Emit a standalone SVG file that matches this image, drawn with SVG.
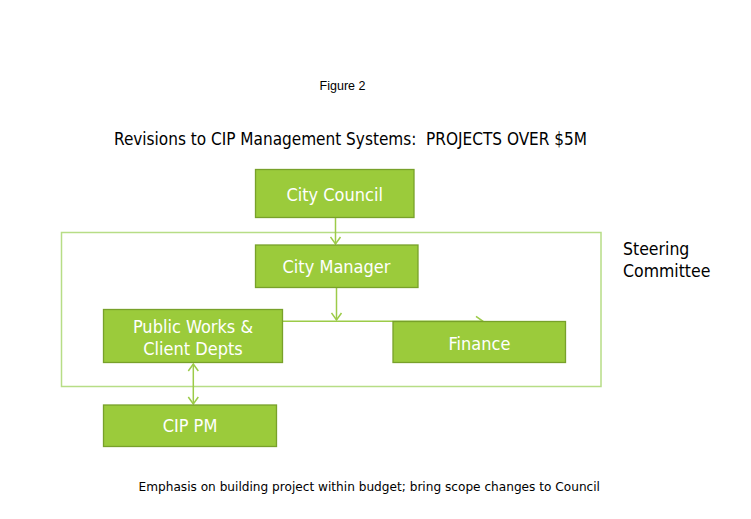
<svg xmlns="http://www.w3.org/2000/svg" width="751" height="519" viewBox="0 0 751 519">
<style>
.node{fill:#9BCB3B;stroke:#78A12A;stroke-width:1.3}
.nt{font-family:"DejaVu Sans Condensed","DejaVu Sans",sans-serif;font-stretch:condensed;font-size:18px;fill:#ffffff;text-anchor:middle}
.lbl{font-family:"DejaVu Sans Condensed","DejaVu Sans",sans-serif;font-stretch:condensed;fill:#000000}
.conn{stroke:#9CCB48;stroke-width:1.5;fill:none}
</style>
<defs>
<marker id="arr" markerUnits="userSpaceOnUse" markerWidth="12" markerHeight="12" viewBox="0 0 12 12" refX="8" refY="6" orient="auto-start-reverse">
<path d="M1,1 L8,6 L1,11" fill="none" stroke="#9CCB48" stroke-width="1.5"/>
</marker>
</defs>
<rect width="751" height="519" fill="#ffffff"/>
<text x="342.5" y="90" font-family="Liberation Sans, Arial, sans-serif" font-size="12.5" text-anchor="middle" fill="#000">Figure 2</text>
<text x="114" y="145" class="lbl" font-size="17" xml:space="preserve" style="white-space:pre" textLength="473" lengthAdjust="spacingAndGlyphs">Revisions to CIP Management Systems:  PROJECTS OVER $5M</text>
<g id="steering">
<rect x="61.5" y="232.5" width="539.5" height="154" fill="none" stroke="#B7DD86" stroke-width="1.5"/>
<text class="lbl" font-size="17.5"><tspan x="623" y="255">Steering</tspan><tspan x="623" y="277">Committee</tspan></text>
</g>
<g id="connectors">
<line class="conn" x1="335.5" y1="218" x2="335.5" y2="244" marker-end="url(#arr)"/>
<line class="conn" x1="336.5" y1="287.5" x2="336.5" y2="320" marker-end="url(#arr)"/>
<line class="conn" x1="283" y1="321.3" x2="483" y2="321.3" marker-end="url(#arr)"/>
<line class="conn" x1="193.3" y1="364" x2="193.3" y2="404" marker-start="url(#arr)" marker-end="url(#arr)"/>
</g>
<g id="city-council">
<rect class="node" x="255.5" y="169.5" width="158.5" height="48"/>
<text class="nt" x="334.7" y="201">City Council</text>
</g>
<g id="city-manager">
<rect class="node" x="255.5" y="245" width="162.5" height="42.5"/>
<text class="nt" x="336.5" y="273">City Manager</text>
</g>
<g id="public-works">
<rect class="node" x="103.5" y="309.5" width="179" height="53"/>
<text class="nt" x="193" y="333">Public Works &amp;</text>
<text class="nt" x="193" y="354.5">Client Depts</text>
</g>
<g id="finance">
<rect class="node" x="393" y="321.5" width="172.5" height="41"/>
<text class="nt" x="479.5" y="350">Finance</text>
</g>
<g id="cip-pm">
<rect class="node" x="103.5" y="405" width="173" height="41.5"/>
<text class="nt" x="190" y="432">CIP PM</text>
</g>
<text x="138.5" y="491" class="lbl" font-size="13" textLength="461.5" lengthAdjust="spacingAndGlyphs">Emphasis on building project within budget; bring scope changes to Council</text>
</svg>
